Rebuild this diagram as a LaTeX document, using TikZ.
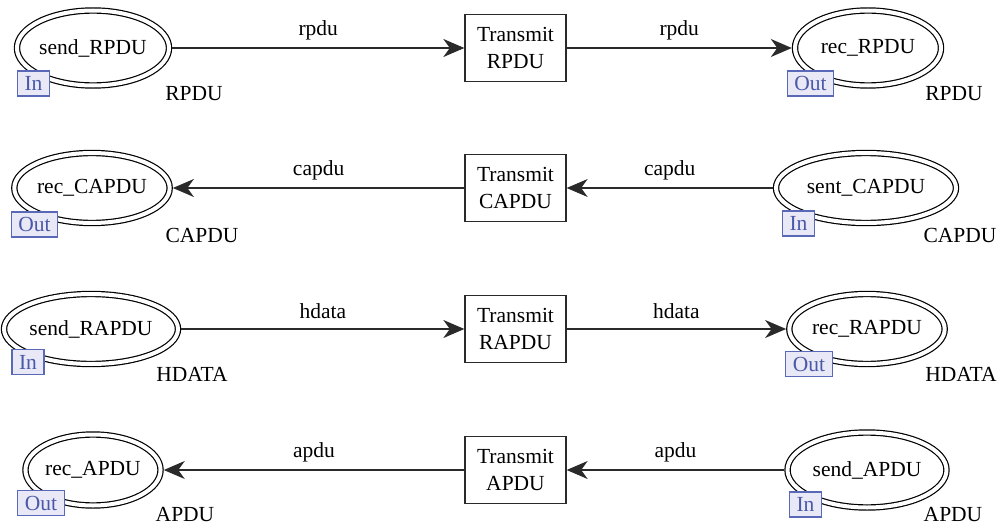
\documentclass[tikz,border=0pt]{standalone}
\usepackage{fontspec}
\setmainfont{Liberation Serif}
\usetikzlibrary{shapes.geometric,arrows.meta}

\definecolor{inkline}{HTML}{2A2A2A}
\definecolor{portfill}{HTML}{E8E8F6}
\definecolor{portdraw}{HTML}{5A68B8}
\definecolor{porttext}{HTML}{4A58A8}

\tikzset{
  place/.style={ellipse, draw=black, line width=1.2pt, double=white,
    double distance=4pt, inner sep=0pt, outer sep=3.2pt},
  trans/.style={rectangle, draw=inkline, line width=1.3pt, fill=white,
    minimum width=101pt, minimum height=67pt, inner sep=0pt,
    align=center},
  port/.style={rectangle, draw=portdraw, fill=portfill, text=porttext,
    line width=1.1pt, minimum height=25pt, inner xsep=7pt, inner ysep=0pt},
  ptype/.style={inner sep=0pt},
  arc/.style={draw=inkline, line width=1.4pt,
    -{Stealth[length=21pt, width=18pt, inset=6.5pt]}},
  arclabel/.style={midway, yshift=18pt, inner sep=0pt},
}

\begin{document}
\begin{tikzpicture}[x=1pt, y=-1pt, font=\fontsize{21.5}{27}\selectfont]
\useasboundingbox (0,0) rectangle (1001,527);

% ---- row 1: RPDU ----
\node[place, minimum width=150pt, minimum height=75pt] (sendRPDU) at (93,48) {send\_RPDU};
\node[trans] (tRPDU) at (515.5,48) {Transmit\\RPDU};
\node[place, minimum width=146pt, minimum height=75pt] (recRPDU) at (868,48) {rec\_RPDU};
\node[port] (p1a) at (33.5,83.5) {In};
\node[port] (p1b) at (810.5,83.5) {Out};
\node[ptype] (t1a) at (194,94) {RPDU};
\node[ptype] (t1b) at (954,94) {RPDU};
\draw[arc] (sendRPDU) -- node[arclabel] {rpdu} (tRPDU);
\draw[arc] (tRPDU) -- node[arclabel] {rpdu} (recRPDU);

% ---- row 2: CAPDU ----
\node[place, minimum width=152pt, minimum height=70pt] (recCAPDU) at (92,188) {rec\_CAPDU};
\node[trans] (tCAPDU) at (515.5,188) {Transmit\\CAPDU};
\node[place, minimum width=180pt, minimum height=70pt] (sentCAPDU) at (866,188) {sent\_CAPDU};
\node[port] (p2a) at (34.5,224.5) {Out};
\node[port] (p2b) at (798.5,223.5) {In};
\node[ptype] (t2a) at (202,235) {CAPDU};
\node[ptype] (t2b) at (960,235) {CAPDU};
\draw[arc] (sentCAPDU) -- node[arclabel] {capdu} (tCAPDU);
\draw[arc] (tCAPDU) -- node[arclabel] {capdu} (recCAPDU);

% ---- row 3: RAPDU / HDATA ----
\node[place, minimum width=173pt, minimum height=70pt] (sendRAPDU) at (91,329) {send\_RAPDU};
\node[trans] (tRAPDU) at (515.5,329) {Transmit\\RAPDU};
\node[place, minimum width=149pt, minimum height=70pt] (recRAPDU) at (867,329) {rec\_RAPDU};
\node[port] (p3a) at (28,362) {In};
\node[port] (p3b) at (809,364) {Out};
\node[ptype] (t3a) at (192,374) {HDATA};
\node[ptype] (t3b) at (961,374) {HDATA};
\draw[arc] (sendRAPDU) -- node[arclabel] {hdata} (tRAPDU);
\draw[arc] (tRAPDU) -- node[arclabel] {hdata} (recRAPDU);

% ---- row 4: APDU ----
\node[place, minimum width=129pt, minimum height=71pt] (recAPDU) at (93,470) {rec\_APDU};
\node[trans] (tAPDU) at (515.5,470) {Transmit\\APDU};
\node[place, minimum width=159pt, minimum height=75pt] (sendAPDU) at (867,470) {send\_APDU};
\node[port] (p4a) at (41,503) {Out};
\node[port] (p4b) at (805.5,504.5) {In};
\node[ptype] (t4a) at (185,515) {APDU};
\node[ptype] (t4b) at (953,515) {APDU};
\draw[arc] (sendAPDU) -- node[arclabel] {apdu} (tAPDU);
\draw[arc] (tAPDU) -- node[arclabel] {apdu} (recAPDU);
\end{tikzpicture}
\end{document}
